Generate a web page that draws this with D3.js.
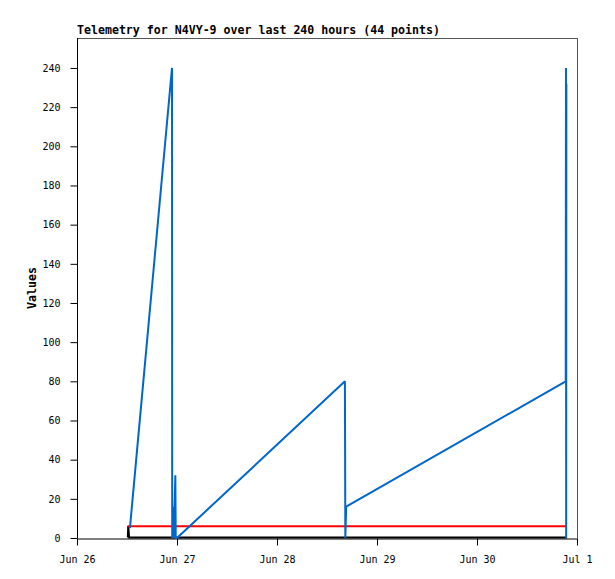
<!DOCTYPE html>
<html><head><meta charset="utf-8">
<script src="https://cdn.jsdelivr.net/npm/d3@7"></script>
<style>body{margin:0;background:#fff}</style>
</head><body>
<svg id="c" width="615" height="579"></svg>
<script>
// hours since Jun 26 00:00
const blueHours = [12.7, 22.8, 22.85, 23.2, 23.25, 23.6, 23.7, 24.0, 64.3, 64.4, 64.6, 117.3, 117.35, 117.4, 117.45];
const blueValues = [5, 240, 0, 16, 0, 32, 0, 0, 80, 0, 16, 80, 240, 0, 232];
const redHours = [12.2, 117.6];
const redValues = [6, 6];
const blackHours = [12.2, 12.3, 12.5, 117.6];
const blackValues = [0, 6, 0, 0];
const yTicks = [0, 20, 40, 60, 80, 100, 120, 140, 160, 180, 200, 220, 240];
const xTickLabels = ["Jun 26", "Jun 27", "Jun 28", "Jun 29", "Jun 30", "Jul 1"];
const title = "Telemetry for N4VY-9 over last 240 hours (44 points)";
const yLabel = "Values";

const start = new Date(2024, 5, 26);
const toDate = h => new Date(start.getTime() + h * 3600e3);
const L = 77, R = 577, T = 38, B = 538;
const x = d3.scaleTime().domain([start, toDate(120)]).range([L, R]);
const y = d3.scaleLinear().domain([0, 255.3]).range([B, T]);
const svg = d3.select("#c");
const mono = "'DejaVu Sans Mono', 'Liberation Mono', monospace";

// frame
svg.append("line").attr("x1", L).attr("x2", R).attr("y1", T + 0.5).attr("y2", T + 0.5).attr("stroke", "#555");
svg.append("line").attr("x1", R + 0.5).attr("x2", R + 0.5).attr("y1", T).attr("y2", B).attr("stroke", "#555");

const xTickDates = xTickLabels.map((_, i) => toDate(i * 24));
const xAxis = svg.append("g").attr("transform", `translate(0,${B + 0.5})`)
  .call(d3.axisBottom(x).tickValues(xTickDates).tickFormat((d, i) => xTickLabels[i]).tickSize(7).tickSizeOuter(0));
xAxis.select(".domain").attr("stroke", "#000");
xAxis.selectAll("text").attr("font-family", mono).attr("font-size", 10).attr("dy", "1.45em").attr("fill", "#000");
xAxis.selectAll(".tick line").attr("stroke", "#000");

const yAxis = svg.append("g").attr("transform", `translate(${L + 0.5},0)`)
  .call(d3.axisLeft(y).tickValues(yTicks).tickSize(7).tickSizeOuter(0));
yAxis.select(".domain").attr("stroke", "#000").attr("d", `M0,${T}V${B}`);
yAxis.selectAll("text").attr("font-family", mono).attr("font-size", 10).attr("dx", "-0.7em").attr("fill", "#000");

const line = d3.line().x(d => x(toDate(d[0]))).y(d => y(d[1]));
svg.append("path").datum(blackHours.map((h, i) => [h, blackValues[i]]))
  .attr("d", line).attr("fill", "none").attr("stroke", "#000").attr("stroke-width", 2).attr("transform", "translate(0,-0.5)");
svg.append("path").datum(redHours.map((h, i) => [h, redValues[i]]))
  .attr("d", line).attr("fill", "none").attr("stroke", "#ff0000").attr("stroke-width", 2);
svg.append("path").datum(blueHours.map((h, i) => [h, blueValues[i]]))
  .attr("d", line).attr("fill", "none").attr("stroke", "#0066cc").attr("stroke-width", 2).attr("stroke-linejoin", "miter").attr("stroke-miterlimit", 1);

svg.append("text").attr("x", L).attr("y", T - 4).text(title)
  .attr("font-family", mono).attr("font-weight", "bold").attr("font-size", 11.6).attr("fill", "#000");
svg.append("text").attr("transform", `translate(36,${(T + B) / 2}) rotate(-90)`).attr("text-anchor", "middle")
  .text(yLabel).attr("font-family", mono).attr("font-weight", "bold").attr("font-size", 11.6).attr("fill", "#000");
</script>
</body></html>
